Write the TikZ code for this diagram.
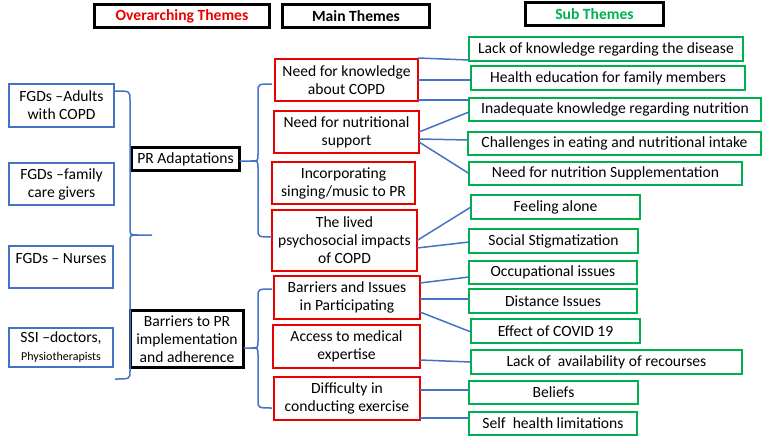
\documentclass[tikz,border=0pt]{standalone}
\usepackage{fontspec}
\setmainfont{Carlito}
\usetikzlibrary{calc}
\definecolor{cblue}{HTML}{4472C4}
\definecolor{cred}{RGB}{235,0,0}
\definecolor{cgreen}{RGB}{0,176,80}
\begin{document}
\begin{tikzpicture}[x=1pt,y=-1pt,
  every node/.style={font=\fontsize{15.6}{18}\selectfont, align=center, inner sep=0pt, outer sep=0pt},
  hbox/.style={draw=black, line width=3pt, font=\bfseries\fontsize{15.6}{18}\selectfont},
  obox/.style={draw=black, line width=2.6pt},
  bbox/.style={draw=cblue, line width=2pt},
  rbox/.style={draw=cred, line width=2pt},
  gbox/.style={draw=cgreen, line width=2pt},
  conn/.style={draw=cblue, line width=1.5pt},
]
\useasboundingbox (0,0) rectangle (768,442);
% headers
\node[hbox, text=cred, minimum width=175pt, minimum height=23pt] (H1) at (182,16) {Overarching Themes};
\node[hbox, minimum width=147pt, minimum height=23pt] (H2) at (356,16) {Main Themes};
\node[hbox, text=cgreen, minimum width=138pt, minimum height=23pt] (H3) at (594.5,14) {Sub Themes};
% blue sources
\node[bbox, minimum width=105pt, minimum height=43pt] (B1) at (61.5,105.5) {FGDs –Adults\\with COPD};
\node[bbox, minimum width=105pt, minimum height=42pt] (B2) at (61.5,184) {FGDs –family\\care givers};
\node[bbox, minimum width=104pt, minimum height=42pt] (B3) at (61,267) {FGDs – Nurses\\~};
\node[bbox, minimum width=104pt, minimum height=39pt] (B4) at (61,347.5) {SSI –doctors,\\{\fontsize{12}{14}\selectfont Physiotherapists}};
% overarching
\node[obox, minimum width=108pt, minimum height=23pt] (O1) at (185.5,159) {PR Adaptations};
\node[obox, minimum width=113pt, minimum height=57pt] (O2) at (187,339) {Barriers to PR\\implementation\\and adherence};
% main themes
\node[rbox, minimum width=143pt, minimum height=42pt] (R1) at (346.5,80) {Need for knowledge\\about COPD};
\node[rbox, minimum width=145pt, minimum height=42pt] (R2) at (346.5,132) {Need for nutritional\\support};
\node[rbox, minimum width=143pt, minimum height=42pt] (R3) at (343.5,183) {Incorporating\\singing/music to PR};
\node[rbox, minimum width=145pt, minimum height=61pt] (R4) at (344.5,240.5) {The lived\\psychosocial impacts\\of COPD};
\node[rbox, minimum width=146pt, minimum height=43pt] (R5) at (347,297.5) {Barriers and Issues\\in Participating};
\node[rbox, minimum width=147pt, minimum height=43pt] (R6) at (346.5,346.5) {Access to medical\\expertise};
\node[rbox, minimum width=146pt, minimum height=43pt] (R7) at (347,398.5) {Difficulty in\\conducting exercise};
% sub themes
\node[gbox, minimum width=274pt, minimum height=24pt] (G1) at (606,49) {Lack of knowledge regarding the disease};
\node[gbox, minimum width=274pt, minimum height=24pt] (G2) at (608,78) {Health education for family members};
\node[gbox, minimum width=292pt, minimum height=23pt] (G3) at (615,109.5) {Inadequate knowledge regarding nutrition};
\node[gbox, minimum width=293pt, minimum height=23pt] (G4) at (614.5,143.5) {Challenges in eating and nutritional intake};
\node[gbox, minimum width=273pt, minimum height=23pt] (G5) at (605.5,173.5) {Need for nutrition Supplementation};
\node[gbox, minimum width=169pt, minimum height=24pt] (G6) at (555.5,207) {Feeling alone};
\node[gbox, minimum width=169pt, minimum height=24pt] (G7) at (553.5,241) {Social Stigmatization};
\node[gbox, minimum width=168pt, minimum height=23pt] (G8) at (553,272.5) {Occupational issues};
\node[gbox, minimum width=168pt, minimum height=24pt] (G9) at (553,301) {Distance Issues};
\node[gbox, minimum width=169pt, minimum height=24pt] (G10) at (555.5,331) {Effect of COVID 19};
\node[gbox, minimum width=271pt, minimum height=24pt] (G11) at (606.5,362) {Lack of\ \ availability of recourses};
\node[gbox, minimum width=169pt, minimum height=23pt] (G12) at (553.5,392.5) {Beliefs};
\node[gbox, minimum width=168pt, minimum height=23pt] (G13) at (553,423.5) {Self\ \ health limitations};
% left brace
\coordinate (lbT) at (115,91);
\coordinate (lbB) at (115,379);
\coordinate (lbTip) at (152,235);
\draw[conn] (lbT) .. controls (130,91) .. (130,100) -- (130,228) .. controls (130,235) .. (138,235) -- (lbTip);
\draw[conn] (138,235) .. controls (130,235) .. (130,242) -- (130,371) .. controls (130,379) .. (lbB);
% brace PR adaptations
\coordinate (b2T) at (272,84);
\coordinate (b2B) at (272,237);
\draw[conn] (b2T) .. controls (258,84) .. (258,92) -- (258,154) .. controls (258,161) .. (251,161) -- ([yshift=-2pt]O1.east);
\draw[conn] (251,161) .. controls (258,161) .. (258,168) -- (258,229) .. controls (258,237) .. (b2B);
% brace barriers
\coordinate (b3T) at (272,289);
\coordinate (b3B) at (272,408);
\draw[conn] (b3T) .. controls (258,289) .. (258,297) -- (258,341) .. controls (258,348) .. (251,348) -- ([yshift=-9pt]O2.east);
\draw[conn] (251,348) .. controls (258,348) .. (258,355) -- (258,400) .. controls (258,408) .. (b3B);
% connectors
\draw[conn] ([yshift=22pt]R1.east) -- ([yshift=-11pt]G1.west);
\draw[conn] (R1.east) -- ([yshift=-2pt]G2.west);
\draw[conn] ([yshift=-20pt]R1.east) -- ([yshift=9.5pt]G3.west);
\draw[conn] (R2.east) -- ([yshift=-2.5pt]G3.west);
\draw[conn] ([yshift=-7pt]R2.east) -- ([yshift=3.5pt]G4.west);
\draw[conn] ([yshift=-10pt]R2.east) -- (G5.west);
\draw[conn] (R4.east) -- (G6.west);
\draw[conn] ([yshift=-7.5pt]R4.east) -- ([yshift=-1pt]G7.west);
\draw[conn] ([yshift=14.5pt]R5.east) -- ([yshift=-4.5pt]G8.west);
\draw[conn] ([yshift=-1.5pt]R5.east) -- ([yshift=2pt]G9.west);
\draw[conn] ([yshift=-14.5pt]R5.east) -- ([yshift=-1pt]G10.west);
\draw[conn] ([yshift=-13.5pt]R6.east) -- (G11.west);
\draw[conn] ([yshift=8.5pt]R7.east) -- ([yshift=2.5pt]G12.west);
\draw[conn] ([yshift=-19.5pt]R7.east) -- ([yshift=5.5pt]G13.west);
\end{tikzpicture}
\end{document}
